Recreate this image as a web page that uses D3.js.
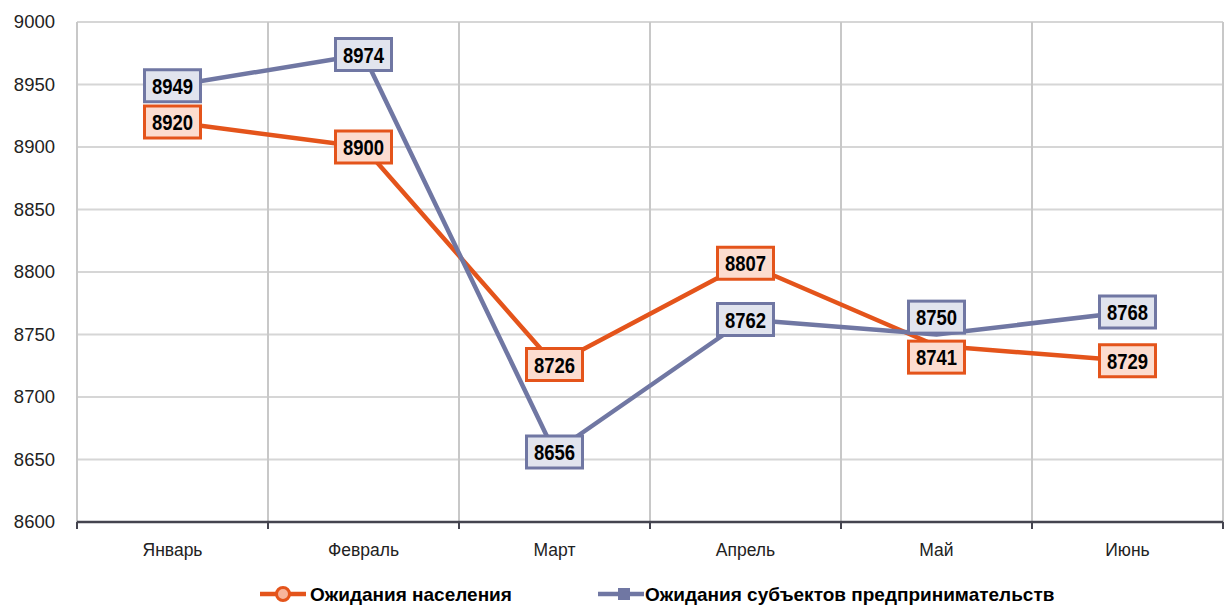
<!DOCTYPE html>
<html>
<head>
<meta charset="utf-8">
<script src="https://cdn.jsdelivr.net/npm/d3@7"></script>
<style>
  body { margin: 0; background: #fff; }
  svg text { font-family: "Liberation Sans", Arial, sans-serif; }
</style>
</head>
<body>
<div id="chart"></div>
<script>
// Data
const months = ["Январь", "Февраль", "Март", "Апрель", "Май", "Июнь"];
const population = [8920, 8900, 8726, 8807, 8741, 8729];
const business = [8949, 8974, 8656, 8762, 8750, 8768];
const yTicks = [8600, 8650, 8700, 8750, 8800, 8850, 8900, 8950, 9000];
const seriesNames = ["Ожидания населения", "Ожидания субъектов предпринимательств"];

let width = 1229,
    height = 606;

let margin = { top: 22, bottom: 84, left: 77, right: 6 };

let svg = d3.select('#chart')
    .append('svg')
    .attr('width', width)
    .attr('height', height);

let xScale = d3.scaleBand()
    .domain(months)
    .range([margin.left, width - margin.right]);

let yScale = d3.scaleLinear()
    .domain([8600, 9000])
    .range([height - margin.bottom, margin.top]);

// Horizontal gridlines
svg.append('g')
    .selectAll('line')
    .data(yTicks)
    .enter()
    .append('line')
    .attr('x1', margin.left)
    .attr('x2', width - margin.right)
    .attr('y1', d => yScale(d))
    .attr('y2', d => yScale(d))
    .attr('stroke', '#d6d6d6')
    .attr('stroke-width', 2);

// Vertical gridlines (category boundaries)
let bounds = months.map(m => xScale(m)).concat([xScale(months[months.length - 1]) + xScale.bandwidth()]);
svg.append('g')
    .selectAll('line')
    .data(bounds)
    .enter()
    .append('line')
    .attr('x1', d => d)
    .attr('x2', d => d)
    .attr('y1', margin.top)
    .attr('y2', height - margin.bottom)
    .attr('stroke', '#c8c8c8')
    .attr('stroke-width', 2);

// Y axis labels
svg.append('g')
    .selectAll('text')
    .data(yTicks)
    .enter()
    .append('text')
    .attr('x', 55)
    .attr('y', d => yScale(d) + 6)
    .attr('text-anchor', 'end')
    .style('font-size', '18.5px')
    .style('fill', '#222')
    .text(d => d);

// X axis line and ticks
let axisY = height - margin.bottom;
svg.append('line')
    .attr('x1', margin.left)
    .attr('x2', width - margin.right)
    .attr('y1', axisY)
    .attr('y2', axisY)
    .attr('stroke', '#44444f')
    .attr('stroke-width', 2.5);

svg.append('g')
    .selectAll('line')
    .data(bounds)
    .enter()
    .append('line')
    .attr('x1', d => d)
    .attr('x2', d => d)
    .attr('y1', axisY)
    .attr('y2', axisY + 7)
    .attr('stroke', '#44444f')
    .attr('stroke-width', 2);

// X axis labels
svg.append('g')
    .selectAll('text')
    .data(months)
    .enter()
    .append('text')
    .attr('x', d => xScale(d) + xScale.bandwidth() / 2)
    .attr('y', 556)
    .attr('text-anchor', 'middle')
    .style('font-size', '17.5px')
    .style('fill', '#222')
    .text(d => d);

const series = [
    { name: seriesNames[0], values: population, color: '#e4541b', fill: '#fcdccf' },
    { name: seriesNames[1], values: business, color: '#7077a3', fill: '#e1e4ee' }
];

let line = d3.line()
    .x((d, i) => xScale(months[i]) + xScale.bandwidth() / 2)
    .y(d => yScale(d));

// Lines
series.forEach(s => {
    svg.append('path')
        .datum(s.values)
        .attr('d', line)
        .attr('fill', 'none')
        .attr('stroke', s.color)
        .attr('stroke-width', 4.5)
        .attr('stroke-linejoin', 'round');
});

// Data labels: boxes centered on points, except where two labels collide (Май)
let boxW = 56, boxH = 32;
function labelShift(si, i) {
    let a = yScale(population[i]), b = yScale(business[i]);
    if (Math.abs(a - b) >= boxH + 4) return 0;
    // push the upper one up and the lower one down
    let mid = (a + b) / 2;
    let own = si === 0 ? a : b;
    let target = own < mid ? mid - 23 : mid + 17;
    return target - own;
}

series.forEach((s, si) => {
    let g = svg.append('g')
        .selectAll('g')
        .data(s.values)
        .enter()
        .append('g')
        .attr('transform', (d, i) => `translate(${xScale(months[i]) + xScale.bandwidth() / 2},${yScale(d) + labelShift(si, i)})`);

    g.append('rect')
        .attr('x', -boxW / 2)
        .attr('y', -boxH / 2)
        .attr('width', boxW)
        .attr('height', boxH)
        .attr('fill', s.fill)
        .attr('stroke', s.color)
        .attr('stroke-width', 3);

    g.append('text')
        .attr('y', 8)
        .attr('text-anchor', 'middle')
        .attr('transform', 'scale(0.84,1)')
        .style('font-size', '22px')
        .style('font-weight', 'bold')
        .style('fill', '#000')
        .text(d => d);
});

// Legend
let legendY = 594;
let legend = svg.selectAll('.legend')
    .data(series)
    .enter().append('g')
    .attr('class', 'legend')
    .attr('transform', (d, i) => `translate(${i === 0 ? 260 : 598},${legendY})`);

legend.append('line')
    .attr('x1', 0)
    .attr('x2', 46)
    .attr('stroke', d => d.color)
    .attr('stroke-width', 4.5);

legend.filter((d, i) => i === 0)
    .append('circle')
    .attr('cx', 23)
    .attr('r', 6.5)
    .attr('fill', '#f7b49a')
    .attr('stroke', d => d.color)
    .attr('stroke-width', 3);

legend.filter((d, i) => i === 1)
    .append('rect')
    .attr('x', 20)
    .attr('y', -6)
    .attr('width', 12)
    .attr('height', 12)
    .attr('fill', d => d.color);

legend.append('text')
    .attr('x', d => d === series[0] ? 50 : 47)
    .attr('y', 7)
    .style('font-size', '19px')
    .style('font-weight', 'bold')
    .style('fill', '#000')
    .text(d => d.name);
</script>
</body>
</html>
